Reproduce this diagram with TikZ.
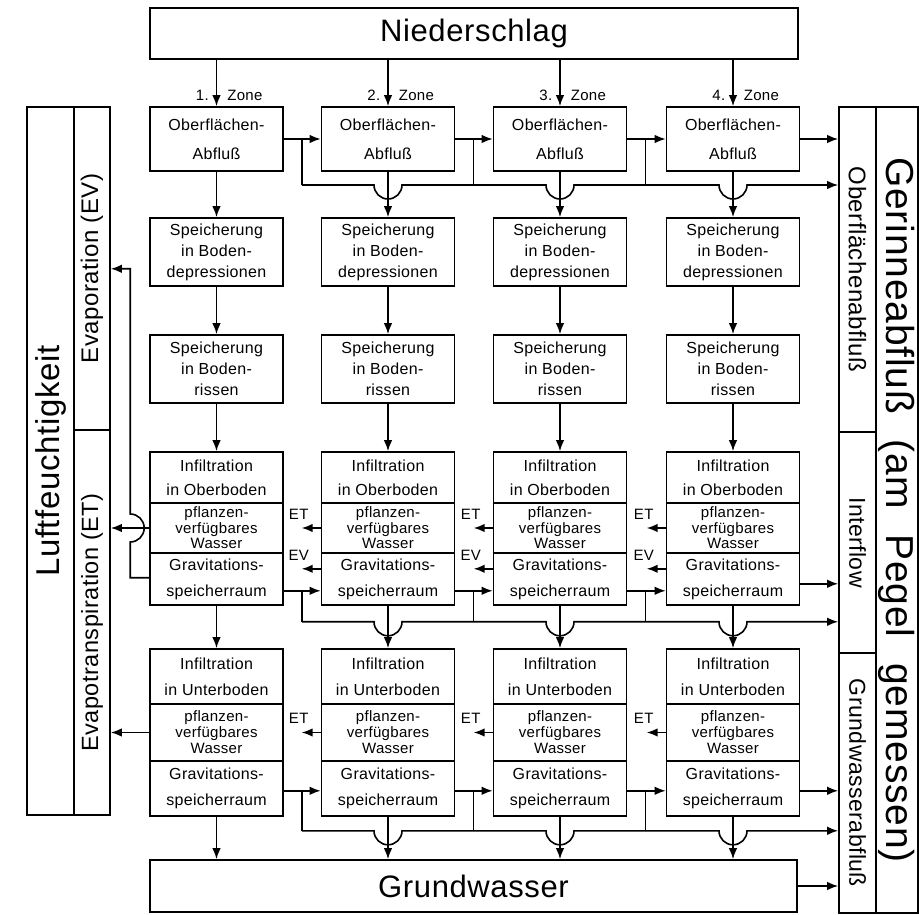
\documentclass[tikz,border=0pt]{standalone}
\usepackage{fontspec}
\setmainfont[LetterSpace=2]{Liberation Sans}
\usepackage{tikz}
\usetikzlibrary{positioning,calc,arrows.meta}
\newcommand{\fsz}[2]{\fontsize{#1}{#2}\selectfont}
\tikzset{
  box/.style={draw,minimum width=133pt,inner sep=0pt,align=center},
  side/.style={draw,inner sep=0pt},
  arr/.style={-{Latex[length=11pt,width=8.5pt]}},
  lbl/.style={font=\fsz{15}{15},inner sep=0pt}
}

\begin{document}
\begin{tikzpicture}[x=1pt,y=1pt,line width=1.6pt]
\useasboundingbox (0,0) rectangle (919,914);

\node[draw,minimum width=648pt,minimum height=51pt,inner sep=0pt,font=\fsz{31}{31}] (nied) at (474,880.5) {Niederschlag};
\node[draw,minimum width=647pt,minimum height=52pt,inner sep=0pt,font=\fsz{31}{31}] (grund) at (473.5,28) {Grundwasser};

\node[side,minimum width=47pt,minimum height=708pt,font=\fsz{33}{33}] (luft) at (50.5,453) {\rotatebox{90}{Luftfeuchtigkeit}};
\node[side,minimum width=36pt,minimum height=323pt,font=\fsz{24}{24}] (evap) at (92,645.5) {\rotatebox{90}{Evaporation (EV)}};
\node[side,minimum width=36pt,minimum height=385pt,font=\fsz{23.5}{23.5}] (evtr) at (92,291.5) {\rotatebox{90}{Evapotranspiration (ET)}};

\node[side,minimum width=37pt,minimum height=325pt,font=\fsz{24}{24}] (ofl) at (857.5,644.5) {\rotatebox{-90}{Oberflächenabfluß}};
\node[side,minimum width=37pt,minimum height=221pt,font=\fsz{23}{23}] (intf) at (857.5,371.5) {\rotatebox{-90}{Interflow}};
\node[side,minimum width=37pt,minimum height=260pt,font=\fsz{23}{23}] (gwa) at (857.5,131) {\rotatebox{-90}{Grundwasserabfluß}};
\node[side,minimum width=42pt,minimum height=806pt,font=\fsz{39}{39}] (ger) at (897,404) {\rotatebox{-90}{Gerinneabfluß\hspace{26pt}(am\hspace{26pt}Pegel\hspace{26pt}gemessen)}};

\foreach \i/\x in {1/216.5,2/388,3/560,4/733}{
  \node[box,minimum height=64pt,font=\fsz{16}{29}] (oa\i) at (\x,775) {Oberflächen-\\Abfluß};
  \node[box,minimum height=68pt,font=\fsz{16}{21}] (spd\i) at (\x,662) {Speicherung\\in Boden-\\depressionen};
  \node[box,minimum height=68pt,font=\fsz{16}{21}] (spr\i) at (\x,545) {Speicherung\\in Boden-\\rissen};
  \node[box,minimum height=51pt,font=\fsz{16}{24}] (inf\i) at (\x,436.5) {Infiltration\\in Oberboden};
  \node[box,minimum height=50pt,font=\fsz{15}{15.5}] (pfl\i) at (\x,386) {pflanzen-\\verfügbares\\Wasser};
  \node[box,minimum height=52pt,font=\fsz{16}{26}] (grav\i) at (\x,335) {Gravitations-\\speicherraum};
  \node[box,minimum height=55pt,font=\fsz{16}{26}] (uinf\i) at (\x,237.5) {Infiltration\\in Unterboden};
  \node[box,minimum height=57pt,font=\fsz{15}{16}] (upfl\i) at (\x,181.5) {pflanzen-\\verfügbares\\Wasser};
  \node[box,minimum height=55pt,font=\fsz{16}{26}] (ugrav\i) at (\x,125.5) {Gravitations-\\speicherraum};
  \node[lbl,anchor=east] (nr\i) at (\x-7,819) {\i.};
  \node[lbl,anchor=west] (zone\i) at (\x+10,819) {Zone};
  \draw[arr] (nied.south -| oa\i.north) -- (oa\i.north);
  \draw[arr] (oa\i) -- (spd\i);
  \draw[arr] (spd\i) -- (spr\i);
  \draw[arr] (spr\i) -- (inf\i);
  \draw[arr] (grav\i) -- (uinf\i);
  \draw[arr] (ugrav\i) -- (ugrav\i.south |- grund.north);
}

\foreach \i/\j in {1/2,2/3,3/4}{
  \draw[arr] (oa\i) -- (oa\j);
  \draw[arr] ($(grav\i.south east)+(0,15)$) -- ($(grav\j.south west)+(0,15)$);
  \draw[arr] ($(ugrav\i.south east)+(0,26)$) -- ($(ugrav\j.south west)+(0,26)$);
  \draw ($(oa\i.east)+(18,0)$) -- ++(0,-46);
  \draw ($(grav\i.south east)+(18,15)$) -- ++(0,-31);
  \draw ($(ugrav\i.south east)+(18,26)$) -- ++(0,-40);
}

\foreach \i in {2,3,4}{
  \coordinate (etp\i) at ($(pfl\i.west)+(-19,0)$);
  \coordinate (evp\i) at ($(grav\i.south west)+(-19,37)$);
  \coordinate (uetp\i) at ($(upfl\i.west)+(-19,0)$);
  \draw[arr] (pfl\i.west) -- (etp\i);
  \draw[arr] (evp\i -| grav\i.west) -- (evp\i);
  \draw[arr] (upfl\i.west) -- (uetp\i);
  \node[lbl] (et\i) at ($(etp\i)+(-3,14)$) {ET};
  \node[lbl] (ev\i) at ($(evp\i)+(-3,13)$) {EV};
  \node[lbl] (uet\i) at ($(uetp\i)+(-3,14)$) {ET};
}

\coordinate (g4) at ($(grav4.south east)+(0,22)$);
\coordinate (ug4) at ($(ugrav4.south east)+(0,26)$);
\draw[arr] (oa4) -- (oa4 -| ofl.west);
\draw[arr] (g4) -- (g4 -| intf.west);
\draw[arr] (ug4) -- (ug4 -| gwa.west);
\draw[arr] (grund) -- (grund -| gwa.west);

\coordinate (c1) at ($(oa1.east)+(18,-46)$);
\coordinate (c2) at ($(grav1.south east)+(18,-16)$);
\coordinate (c3) at ($(ugrav1.south east)+(18,-14)$);
\draw[arr] (c1) \foreach \j in {2,3,4}{ -- ($(oa\j.south |- c1)+(-14,0)$) arc[start angle=180,end angle=360,radius=14] } -- (c1 -| ofl.west);
\draw[arr] (c2) \foreach \j in {2,3,4}{ -- ($(grav\j.south |- c2)+(-14,0)$) arc[start angle=180,end angle=360,radius=14] } -- (c2 -| intf.west);
\draw[arr] (c3) \foreach \j in {2,3,4}{ -- ($(ugrav\j.south |- c3)+(-14,0)$) arc[start angle=180,end angle=360,radius=14] } -- (c3 -| gwa.west);

\coordinate (k0) at ($(grav1.south west)+(0,28)$);
\coordinate (k1) at ($(k0)+(-19,0)$);
\coordinate (k2) at ($(k1 |- pfl1.west)+(0,-14)$);
\coordinate (k3) at ($(k1)+(0,309)$);
\draw[arr] (k0) -- (k1) -- (k2) arc[start angle=-90,end angle=90,radius=14] -- (k3) -- (k3 -| evap.east);
\draw[arr] (pfl1) -- (pfl1 -| evtr.east);
\draw[arr] (upfl1) -- (upfl1 -| evtr.east);
\end{tikzpicture}
\end{document}
